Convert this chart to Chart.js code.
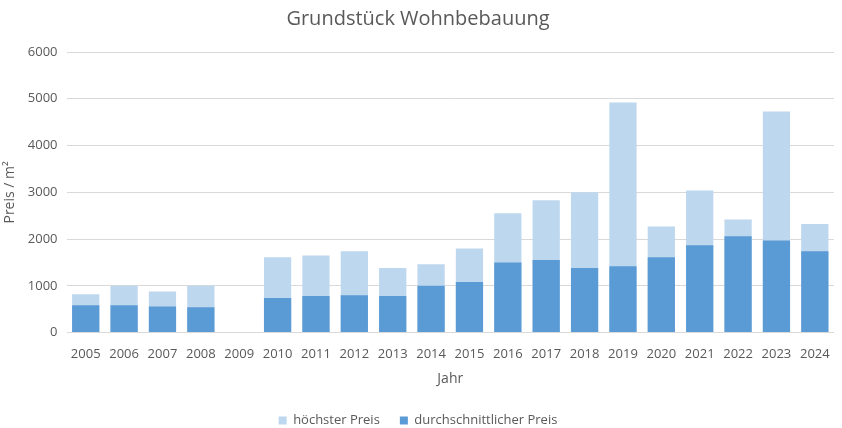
<!DOCTYPE html>
<html>
<head>
<meta charset="utf-8">
<script src="https://cdn.jsdelivr.net/npm/chart.js@4/dist/chart.umd.min.js"></script>
<style>
    html, body { margin: 0; padding: 0; background: #fff; }
    #wrap { width: 842px; height: 428px; }
</style>
</head>
<body>
<div id="wrap"><canvas id="chart"></canvas></div>
<script>
// ========== Daten ==========
var years = ["2005", "2006", "2007", "2008", "2009", "2010", "2011", "2012", "2013", "2014",
             "2015", "2016", "2017", "2018", "2019", "2020", "2021", "2022", "2023", "2024"];
var hoechsterPreis = [820, 1000, 880, 1000, null, 1610, 1650, 1740, 1380, 1460,
                      1800, 2550, 2830, 3000, 4920, 2270, 3040, 2420, 4730, 2320];
var durchschnittPreis = [585, 585, 560, 540, null, 740, 780, 800, 780, 1000,
                         1080, 1500, 1550, 1380, 1420, 1610, 1870, 2060, 1970, 1740];
var yTicks = [0, 1000, 2000, 3000, 4000, 5000, 6000];

var textColor = '#595959';
var fontFamily = '"Open Sans", "Noto Sans", sans-serif';

// ========== Diagramm ==========
var ctx = document.getElementById('chart').getContext('2d');
new Chart(ctx, {
    type: 'bar',
    data: {
        labels: years,
        datasets: [
            { label: 'höchster Preis', data: hoechsterPreis, backgroundColor: '#BDD7EE', order: 1 },
            { label: 'durchschnittlicher Preis', data: durchschnittPreis, backgroundColor: '#5B9BD5', order: 0 }
        ]
    },
    options: {
        responsive: true,
        maintainAspectRatio: false,
        animation: false,
        datasets: { bar: { categoryPercentage: 1.0, barPercentage: 0.71 } },
        // negativer Rand unten: Legende sitzt tiefer, Abstand zwischen Einträgen bleibt groß
        layout: { padding: { left: 2, right: 8, top: 5, bottom: -9 } },
        plugins: {
            title: {
                display: true,
                text: 'Grundstück Wohnbebauung',
                color: textColor,
                font: { family: fontFamily, size: 20, weight: 'normal' },
                padding: { top: 2, bottom: 21 }
            },
            legend: {
                position: 'bottom',
                labels: {
                    color: textColor,
                    font: { family: fontFamily, size: 13 },
                    boxWidth: 8,
                    boxHeight: 8,
                    padding: 20,
                    sort: function(a, b) { return a.datasetIndex - b.datasetIndex; }
                }
            },
            tooltip: { enabled: false }
        },
        scales: {
            x: {
                stacked: true,
                grid: { display: false },
                border: { display: false },
                ticks: { color: textColor, font: { family: fontFamily, size: 13 }, maxRotation: 0, padding: 6 },
                title: {
                    display: true, text: 'Jahr', color: textColor,
                    font: { family: fontFamily, size: 14 },
                    padding: { top: 2, bottom: 7 }
                }
            },
            y: {
                stacked: false,
                min: 0,
                max: 6000,
                afterBuildTicks: function(axis) {
                    axis.ticks = yTicks.map(function(v) { return { value: v }; });
                },
                grid: { color: '#D9D9D9', drawTicks: false },
                border: { display: false },
                ticks: {
                    color: textColor, font: { family: fontFamily, size: 13 }, padding: 9,
                    callback: function(v) { return String(v); }
                },
                title: {
                    display: true, text: 'Preis / m²', color: textColor,
                    font: { family: fontFamily, size: 14 },
                    padding: { top: 0, bottom: 0 }
                }
            }
        }
    }
});
</script>
</body>
</html>
